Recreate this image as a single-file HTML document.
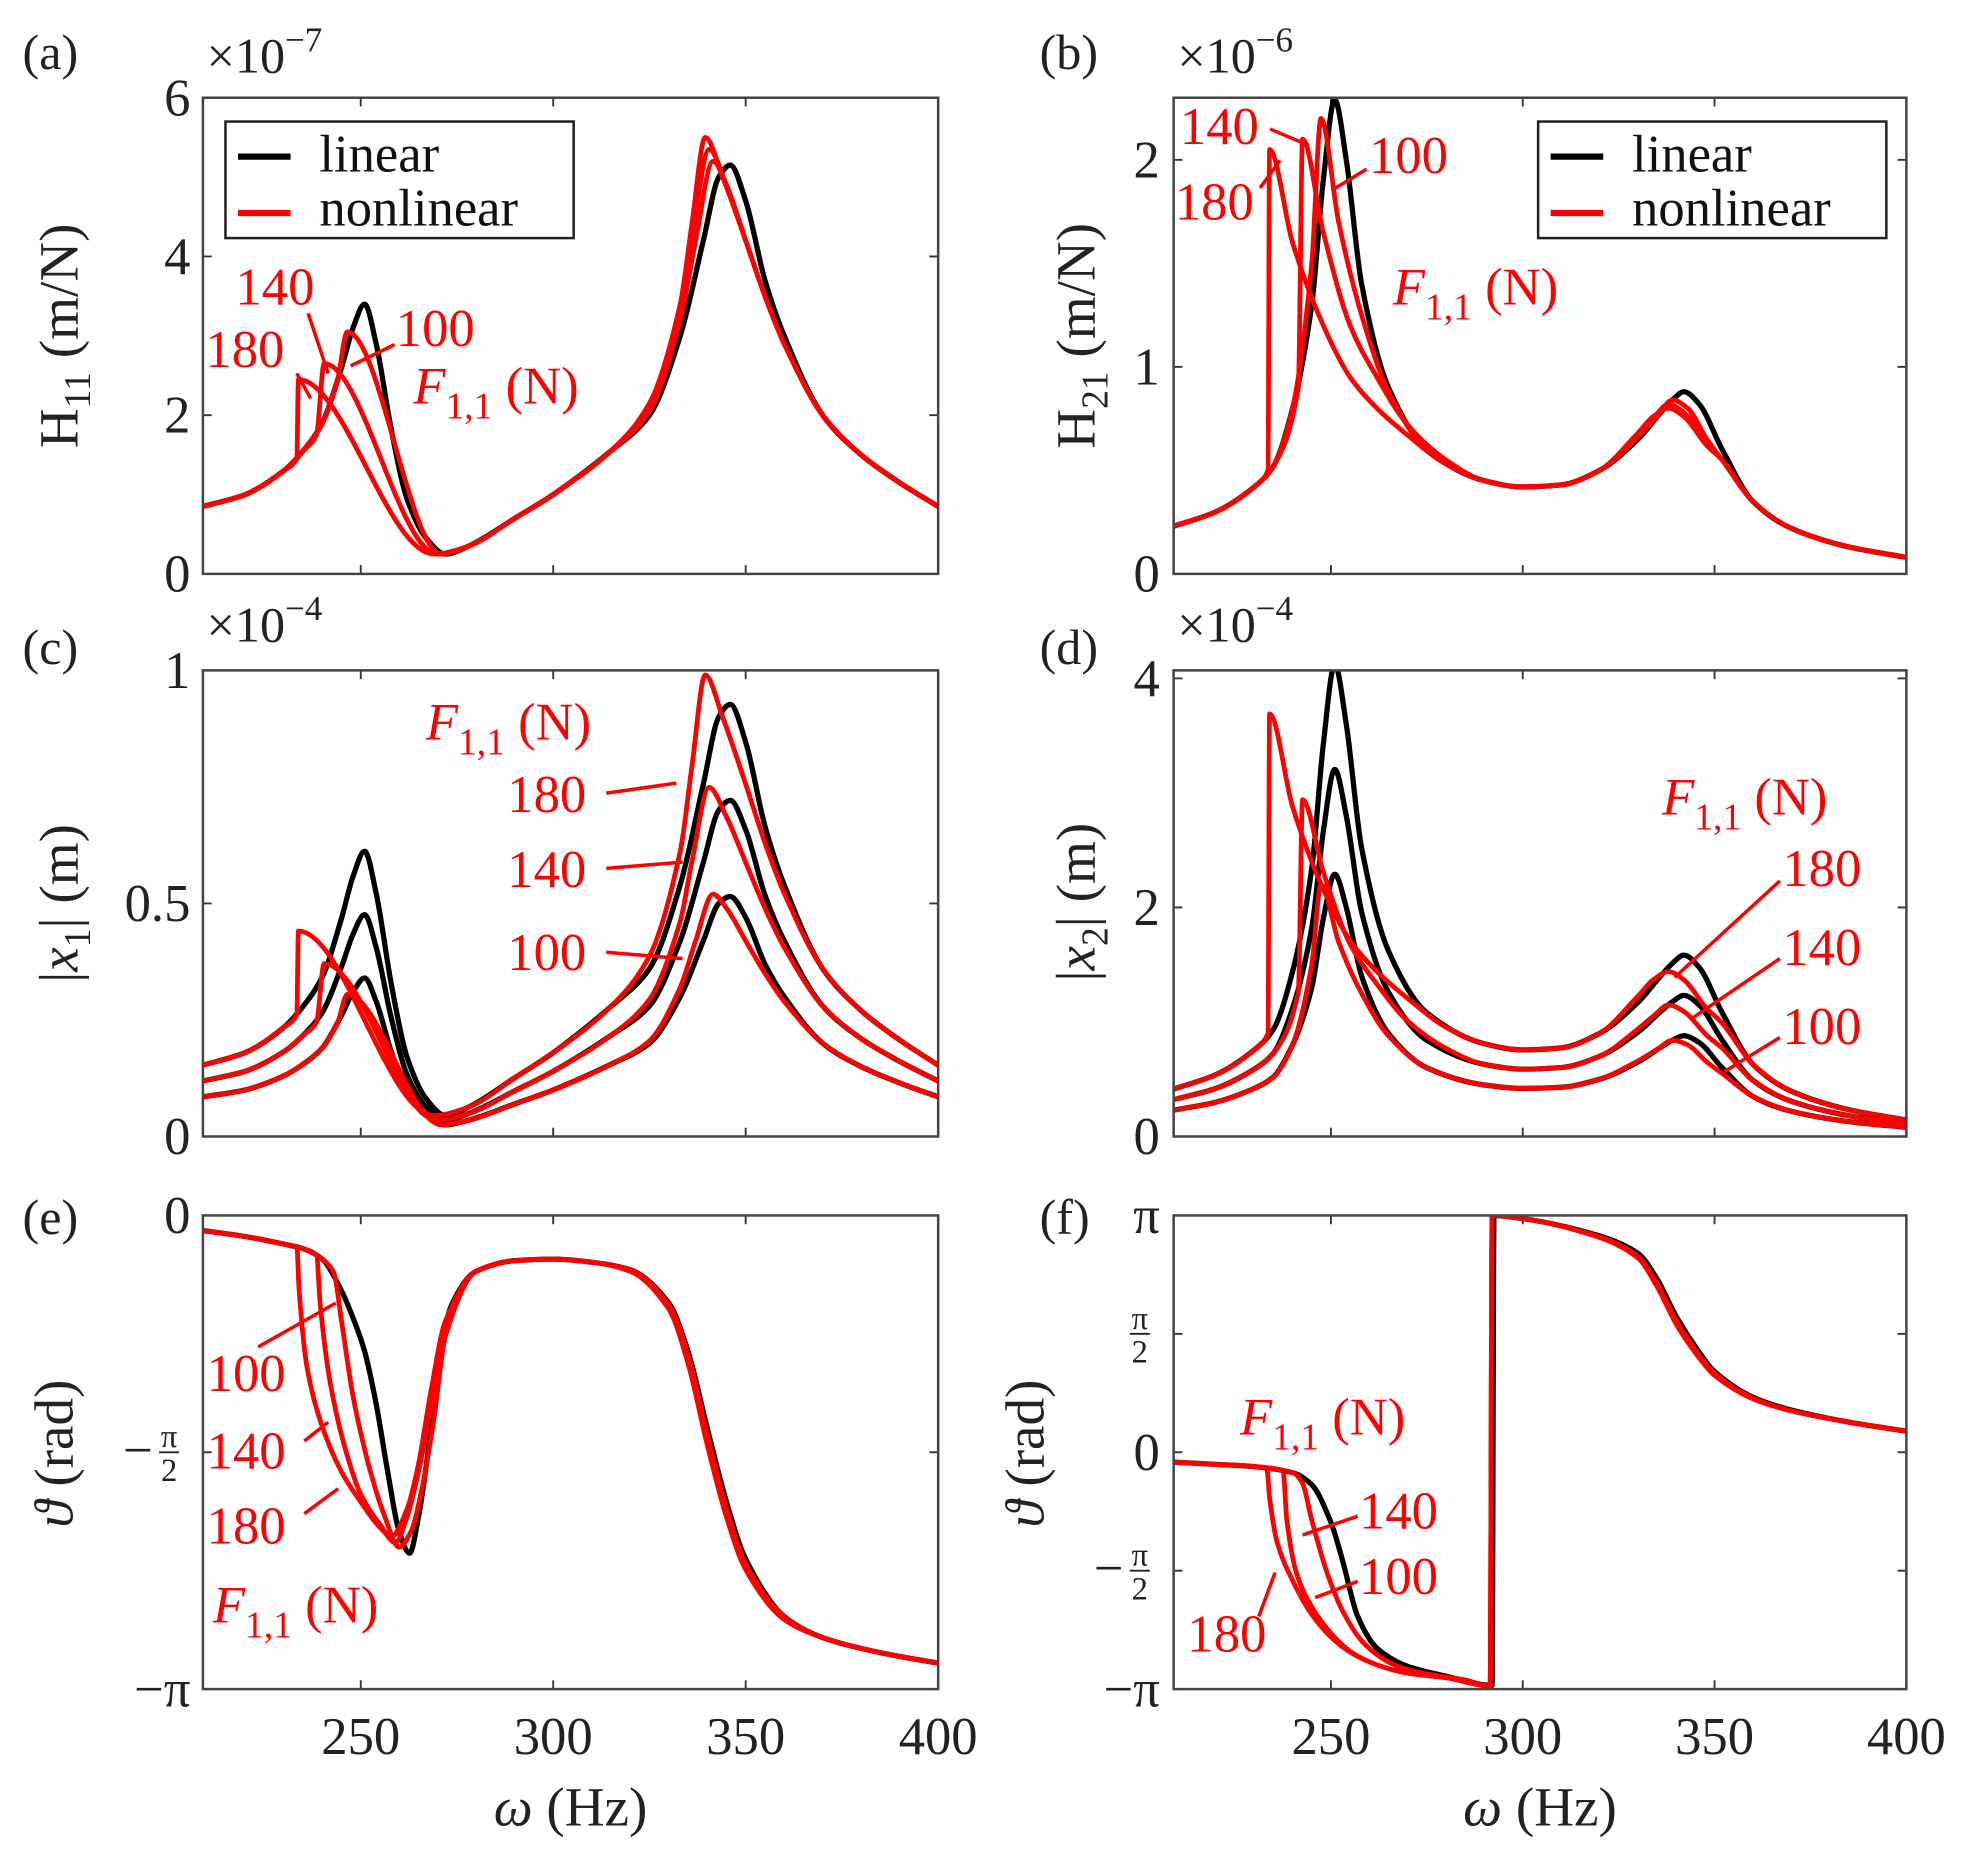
<!DOCTYPE html>
<html><head><meta charset="utf-8">
<style>
html,body{margin:0;padding:0;background:#fff;}
svg{display:block;}
svg text{font-family:"Liberation Serif","Times New Roman","DejaVu Serif",serif !important;}
</style></head>
<body>
<svg id="fig" width="1964" height="1857" viewBox="0 0 1568 1482" preserveAspectRatio="none" font-family="Liberation Serif, serif" xmlns="http://www.w3.org/2000/svg">
<rect x="0" y="0" width="1568" height="1482" fill="#fff"/>
</svg>
<script>
// ---------- DATA ----------
// Panel (a) H11 x1e-7
const fLin_a = [209,220,230,235,240,245,248,251,254,258,262,267,272,278,290,300,315,325,333,339,343,346,350,355,360,370,380,390,400];
const h11Lin = [0.85,1.0,1.3,1.55,1.9,2.6,3.1,3.4,2.9,1.8,0.95,0.45,0.25,0.35,0.7,1.0,1.55,2.0,3.0,4.2,5.0,5.15,4.7,3.7,3.0,2.0,1.5,1.15,0.85];
const fNl100_a = [209,220,230,235,240,244,246.5,271,278,290,300,315,325,333,337,341.5,345,350,355,360,370,380,390,400];
const h11Nl100 = [0.85,1.0,1.3,1.55,1.9,2.45,3.05,0.25,0.35,0.7,1.0,1.55,2.05,3.2,4.2,5.2,4.9,4.2,3.5,2.9,2.0,1.5,1.15,0.85];
const fNl140_a = [209,220,230,235,238.5,240.5,270,278,290,300,315,325,333,336,340.5,345,350,355,360,370,380,390,400];
const h11Nl140 = [0.85,1.0,1.3,1.55,1.75,2.65,0.25,0.35,0.7,1.0,1.55,2.1,3.3,4.2,5.35,4.9,4.2,3.5,2.9,2.0,1.5,1.15,0.85];
const fNl180_a = [209,220,230,233.4,233.8,269,278,290,300,315,325,333,336,339.5,344,350,355,360,370,380,390,400];
const h11Nl180 = [0.85,1.0,1.3,1.45,2.45,0.25,0.35,0.7,1.0,1.55,2.15,3.4,4.4,5.5,5.0,4.2,3.5,2.9,2.0,1.5,1.15,0.85];

// Panel (b) H21 x1e-6
const fLin_b = [209,220,230,235,240,245,248,251,254,258,265,275,290,300,310,320,330,336,339,342,346,352,360,370,385,400];
const h21Lin = [0.23,0.3,0.42,0.52,0.8,1.3,1.9,2.29,2.0,1.4,0.9,0.6,0.45,0.42,0.43,0.5,0.65,0.78,0.84,0.88,0.82,0.6,0.35,0.22,0.13,0.08];
const fNl100_b = [209,220,230,235,240,245,247.4,252,258,265,275,290,300,310,320,330,335,339,343,348,352,360,370,385,400];
const h21Nl100 = [0.23,0.3,0.42,0.52,0.8,1.5,2.2,1.7,1.25,0.88,0.6,0.45,0.42,0.43,0.5,0.66,0.76,0.84,0.8,0.65,0.55,0.35,0.22,0.13,0.08];
const fNl140_b = [209,220,230,235,241.5,242.6,248,255,262,270,280,290,300,310,320,330,334,338,342,348,352,360,370,385,400];
const h21Nl140 = [0.23,0.3,0.42,0.52,0.9,2.1,1.65,1.2,0.95,0.72,0.55,0.45,0.42,0.43,0.5,0.67,0.75,0.82,0.78,0.63,0.55,0.35,0.22,0.13,0.08];
const fNl180_b = [209,220,230,233.6,234,240,248,255,262,270,280,290,300,310,320,330,334,338,342,348,352,360,370,385,400];
const h21Nl180 = [0.23,0.3,0.42,0.5,2.05,1.6,1.2,0.95,0.8,0.67,0.53,0.45,0.42,0.43,0.5,0.68,0.76,0.8,0.76,0.62,0.55,0.35,0.22,0.13,0.08];

// Panel (c) |x1| x1e-4
const x1Lin180 = [0.153,0.18,0.234,0.279,0.342,0.468,0.558,0.612,0.522,0.324,0.171,0.081,0.045,0.063,0.126,0.18,0.279,0.36,0.54,0.756,0.9,0.927,0.846,0.666,0.54,0.36,0.27,0.207,0.153];
const x1Lin140 = [0.119,0.14,0.182,0.217,0.266,0.364,0.434,0.476,0.406,0.252,0.133,0.063,0.035,0.049,0.098,0.14,0.217,0.28,0.42,0.588,0.7,0.721,0.658,0.518,0.42,0.28,0.21,0.161,0.119];
const x1Lin100 = [0.085,0.1,0.13,0.155,0.19,0.26,0.31,0.34,0.29,0.18,0.095,0.045,0.025,0.035,0.07,0.1,0.155,0.2,0.3,0.42,0.5,0.515,0.47,0.37,0.3,0.2,0.15,0.115,0.085];
const x1Nl180 = [0.153,0.18,0.234,0.261,0.441,0.045,0.063,0.126,0.18,0.279,0.387,0.612,0.792,0.99,0.9,0.756,0.63,0.522,0.36,0.27,0.207,0.153];
const x1Nl140 = [0.119,0.14,0.182,0.217,0.245,0.371,0.035,0.049,0.098,0.14,0.217,0.294,0.462,0.588,0.749,0.686,0.588,0.49,0.406,0.28,0.21,0.161,0.119];
const x1Nl100 = [0.085,0.1,0.13,0.155,0.19,0.245,0.305,0.025,0.035,0.07,0.1,0.155,0.205,0.32,0.42,0.52,0.49,0.42,0.35,0.29,0.2,0.15,0.115,0.085];

// Panel (d) |x2| x1e-4
const x2Lin180 = [0.414,0.54,0.756,0.936,1.44,2.34,3.42,4.12,3.6,2.52,1.62,1.08,0.81,0.756,0.774,0.9,1.17,1.404,1.512,1.584,1.476,1.08,0.63,0.396,0.234,0.144];
const x2Lin140 = [0.322,0.42,0.588,0.728,1.12,1.82,2.66,3.206,2.8,1.96,1.26,0.84,0.63,0.588,0.602,0.7,0.91,1.092,1.176,1.232,1.148,0.84,0.49,0.308,0.182,0.112];
const x2Lin100 = [0.23,0.3,0.42,0.52,0.8,1.3,1.9,2.29,2.0,1.4,0.9,0.6,0.45,0.42,0.43,0.5,0.65,0.78,0.84,0.88,0.82,0.6,0.35,0.22,0.13,0.08];
const x2Nl180 = [0.414,0.54,0.756,0.9,3.69,2.88,2.16,1.71,1.44,1.206,0.954,0.81,0.756,0.774,0.9,1.224,1.368,1.44,1.368,1.116,0.99,0.63,0.396,0.234,0.144];
const x2Nl140 = [0.322,0.42,0.588,0.728,1.26,2.94,2.31,1.68,1.33,1.008,0.77,0.63,0.588,0.602,0.7,0.938,1.05,1.148,1.092,0.882,0.77,0.49,0.308,0.182,0.112];
const x2Nl100 = [0.23,0.3,0.42,0.52,0.8,1.5,2.2,1.7,1.25,0.88,0.6,0.45,0.42,0.43,0.5,0.66,0.76,0.84,0.8,0.65,0.55,0.35,0.22,0.13,0.08];

// Panel (e) phase 1 (rad)
const fLin_e = [209,220,230,235,240,245,248,251,254,257,260,262.7,265,267,270,273.5,280,290,300,310,320,330,335,340,345,350,360,370,385,400];
const th1Lin = [-0.1,-0.14,-0.19,-0.22,-0.29,-0.5,-0.68,-0.9,-1.25,-1.7,-2.1,-2.24,-2.0,-1.66,-1.05,-0.6,-0.37,-0.3,-0.29,-0.31,-0.36,-0.58,-0.9,-1.41,-1.9,-2.28,-2.66,-2.8,-2.9,-2.97];
const fNl180_e = [209,220,230,233.4,234,236,240,245,250,255,258,262,265,268,272,280,290,300,310,320,330,335,340,345,350,360,370,385,400];
const th1Nl180 = [-0.1,-0.14,-0.19,-0.21,-0.5,-1.0,-1.4,-1.7,-1.9,-2.07,-2.13,-1.95,-1.65,-1.2,-0.7,-0.37,-0.3,-0.29,-0.31,-0.37,-0.62,-0.98,-1.52,-2.0,-2.35,-2.68,-2.8,-2.9,-2.97];
const fNl140_e = [209,220,230,235,238.5,239.5,242,246,250,255,259,262,265,268,272,280,290,300,310,320,330,335,340,345,350,360,370,385,400];
const th1Nl140 = [-0.1,-0.14,-0.19,-0.22,-0.26,-0.6,-1.1,-1.55,-1.85,-2.05,-2.17,-2.0,-1.7,-1.3,-0.75,-0.37,-0.3,-0.29,-0.31,-0.37,-0.6,-0.95,-1.48,-1.97,-2.33,-2.67,-2.8,-2.9,-2.97];
const fNl100_e = [209,220,230,235,240,243,245,248,252,256,260,263,266,269,272,280,290,300,310,320,330,335,340,345,350,360,370,385,400];
const th1Nl100 = [-0.1,-0.14,-0.19,-0.22,-0.29,-0.38,-0.7,-1.2,-1.65,-1.98,-2.2,-2.1,-1.8,-1.35,-0.8,-0.37,-0.3,-0.29,-0.31,-0.36,-0.59,-0.92,-1.45,-1.94,-2.31,-2.66,-2.8,-2.9,-2.97];

// Panel (f) phase 2 (rad)
const fLin_f = [209,220,230,240,245,250,253,257,262,270,280,292,292.5,300,320,330,335,340,345,350,360,370,385,400];
const th2Lin = [-0.13,-0.16,-0.19,-0.27,-0.43,-0.93,-1.43,-2.18,-2.6,-2.84,-2.97,-3.09,3.14,3.1,2.87,2.64,2.3,1.8,1.4,1.07,0.73,0.56,0.4,0.28];
const fNl180_f = [209,220,230,233.3,234,236,240,245,250,255,260,265,270,280,291.5,292,300,320,330,335,340,345,350,360,370,385,400];
const th2Nl180 = [-0.13,-0.16,-0.19,-0.22,-0.6,-1.2,-1.7,-2.15,-2.45,-2.65,-2.78,-2.87,-2.93,-2.99,-3.1,3.14,3.1,2.85,2.58,2.2,1.7,1.32,1.02,0.71,0.55,0.4,0.28];
const fNl140_f = [209,220,230,237.5,238.5,241,245,250,255,260,265,270,280,291.5,292,300,320,330,335,340,345,350,360,370,385,400];
const th2Nl140 = [-0.13,-0.16,-0.19,-0.24,-0.9,-1.6,-2.05,-2.4,-2.64,-2.78,-2.87,-2.93,-2.99,-3.1,3.14,3.1,2.85,2.58,2.2,1.72,1.34,1.03,0.71,0.55,0.4,0.28];
const fNl100_f = [209,220,230,240,242.5,245,249,253,258,263,268,275,285,291.5,292,300,320,330,335,340,345,350,360,370,385,400];
const th2Nl100 = [-0.13,-0.16,-0.19,-0.27,-0.4,-0.9,-1.6,-2.1,-2.5,-2.72,-2.85,-2.94,-3.02,-3.1,3.14,3.1,2.86,2.6,2.24,1.75,1.36,1.05,0.72,0.55,0.4,0.28];

const xTicks = [250,300,350,400];

// ---------- DRAW ----------
const NS = "http://www.w3.org/2000/svg";
const svg = document.getElementById('fig');
const FONT = '"Liberation Serif","Times New Roman","DejaVu Serif",serif';
function mk(tag, attrs, parent){
  const e = document.createElementNS(NS, tag);
  for (const k in attrs) e.setAttribute(k, attrs[k]);
  if (tag==='text') e.style.fontFamily = FONT;
  (parent||svg).appendChild(e);
  return e;
}
function txt(x,y,s,size,fill,anchor,parent){
  const t = mk('text',{x:x,y:y,'font-size':size,fill:fill||'#000','text-anchor':anchor||'start'},parent);
  t.textContent = s;
  return t;
}

const PI = Math.PI;
const panels = {
  a:{x0:162,x1:749,y0:78,y1:458,ymin:0,ymax:6},
  b:{x0:937,x1:1522,y0:78,y1:458,ymin:0,ymax:2.3},
  c:{x0:162,x1:749,y0:535,y1:907,ymin:0,ymax:1},
  d:{x0:937,x1:1522,y0:535,y1:907,ymin:0,ymax:4.07},
  e:{x0:162,x1:749,y0:970,y1:1348,ymin:-PI,ymax:0},
  f:{x0:937,x1:1522,y0:970,y1:1348,ymin:-PI,ymax:PI}
};
const XMIN=209, XMAX=400;
function sx(p,v){return p.x0+(v-XMIN)/(XMAX-XMIN)*(p.x1-p.x0);}
function sy(p,v){return p.y1-(v-p.ymin)/(p.ymax-p.ymin)*(p.y1-p.y0);}

// monotone cubic (Fritsch-Carlson) path through pixel points
function monoPath(xs,ys){
  const n=xs.length; const d=[],m=[];
  for(let i=0;i<n-1;i++) d.push((ys[i+1]-ys[i])/(xs[i+1]-xs[i]));
  m[0]=d[0]; m[n-1]=d[n-2];
  for(let i=1;i<n-1;i++){
    if(d[i-1]*d[i]<=0) m[i]=0;
    else m[i]=2/(1/d[i-1]+1/d[i]);
  }
  let s='M'+xs[0].toFixed(2)+' '+ys[0].toFixed(2);
  for(let i=0;i<n-1;i++){
    const h=xs[i+1]-xs[i];
    s+='C'+(xs[i]+h/3).toFixed(2)+' '+(ys[i]+m[i]*h/3).toFixed(2)+' '+(xs[i+1]-h/3).toFixed(2)+' '+(ys[i+1]-m[i+1]*h/3).toFixed(2)+' '+xs[i+1].toFixed(2)+' '+ys[i+1].toFixed(2);
  }
  return s;
}

function frame(key,yTickVals){
  const p = panels[key];
  const g = mk('g',{});
  
  
  const cp = mk('clipPath',{id:'clip-'+key},g);
  mk('rect',{x:p.x0,y:p.y0,width:p.x1-p.x0,height:p.y1-p.y0},cp);
  const ax = mk('g',{},g);
  
  
  xTicks.forEach(v=>{
    const X=sx(p,v);
    mk('line',{x1:X,y1:p.y1,x2:X,y2:p.y1-7,stroke:'#333','stroke-width':1.5},ax);
    mk('line',{x1:X,y1:p.y0,x2:X,y2:p.y0+7,stroke:'#333','stroke-width':1.5},ax);
  });
  yTickVals.forEach(v=>{
    const Y=sy(p,v);
    mk('line',{x1:p.x0,y1:Y,x2:p.x0+7,y2:Y,stroke:'#333','stroke-width':1.5},ax);
    mk('line',{x1:p.x1,y1:Y,x2:p.x1-7,y2:Y,stroke:'#333','stroke-width':1.5},ax);
  });
  const curves = mk('g',{'clip-path':'url(#clip-'+key+')'},g);
  
  
  p.g = curves; p.ax = ax;
  return p;
}
function series(key,fs,vs,color,name){
  const p = panels[key];
  const xs = fs.map(v=>sx(p,v)), ys = vs.map(v=>sy(p,v));
  const path = mk('path',{d:monoPath(xs,ys),fill:'none',stroke:color,'stroke-width':color==='#000'?4.2:3.8,'stroke-linejoin':'round','stroke-linecap':'round'},p.g);
  
  
}
function border(key){
  const p=panels[key];
  const r = mk('rect',{x:p.x0,y:p.y0,width:p.x1-p.x0,height:p.y1-p.y0,fill:'none',stroke:'#444','stroke-width':2});
  
  
}
function xLabels(key){
  const p=panels[key];
  xTicks.forEach(v=>{
    const t=txt(sx(p,v),1400,String(v),42,'#222','middle');
    
    
  });
  const t=mk('text',{x:(p.x0+p.x1)/2,y:1457,'font-size':44,fill:'#222','text-anchor':'middle'});
  t.innerHTML='<tspan font-style="italic">ω</tspan> (Hz)';
  
  
}
function yLab(key,v,s,xr){
  const p=panels[key];
  const t=txt(xr,sy(p,v)+14,s,42,'#222','end');
  
  
}
function fracLab(key,v,neg,xr){
  const p=panels[key]; const Y=sy(p,v);
  const g=mk('g',{});
  
  
  txt(xr,Y-4,'π',26,'#222','middle',g);
  mk('line',{x1:xr-8,y1:Y,x2:xr+8,y2:Y,stroke:'#222','stroke-width':1.5},g);
  txt(xr,Y+23,'2',26,'#222','middle',g);
  if(neg) txt(xr-13,Y+12,'−',42,'#222','end',g);
}
function panelLabel(s,x,y){
  const t=txt(x,y,s,40,'#222','start');
  
  
}
function expLab(key,x,y,e){
  const t=mk('text',{x:x,y:y,'font-size':40,fill:'#222'});
  t.innerHTML='×10<tspan font-size="28" dy="-17">−'+e+'</tspan>';
  
  
}
function yTitle(key,cx,cy,html){
  const t=mk('text',{x:0,y:0,'font-size':44,fill:'#222','text-anchor':'middle',transform:'translate('+cx+','+cy+') rotate(-90)'});
  t.innerHTML=html;
  
  
}
function redLab(key,x,y,s,name){
  const t=txt(x,y,s,42,'#f00','start');
  
  
}
function fLab(key,x,y){
  const t=mk('text',{x:x,y:y,'font-size':42,fill:'#f00'});
  t.innerHTML='<tspan font-style="italic">F</tspan><tspan font-size="30" dy="12">1,1</tspan><tspan dy="-12"> (N)</tspan>';
  
  
}
function leader(x1,y1,x2,y2,name){
  const l=mk('line',{x1:x1,y1:y1,x2:x2,y2:y2,stroke:'#f00','stroke-width':2.8});
  
  
}
function legend(key,x,y){
  const g=mk('g',{});
  
  
  mk('rect',{x:x,y:y,width:278,height:93,fill:'#fff',stroke:'#222','stroke-width':2},g);
  const e1=mk('g',{},g);
  
  
  mk('line',{x1:x+10,y1:y+28,x2:x+52,y2:y+28,stroke:'#000','stroke-width':5},e1);
  txt(x+75,y+40,'linear',42,'#111','start',e1);
  const e2=mk('g',{},g);
  
  
  mk('line',{x1:x+10,y1:y+73,x2:x+52,y2:y+73,stroke:'#f00','stroke-width':5},e2);
  txt(x+75,y+83,'nonlinear',42,'#111','start',e2);
}

// Panel a
frame('a',[0,2,4,6]);
series('a',fLin_a,h11Lin,'#000','h11-linear');
series('a',fNl100_a,h11Nl100,'#f00','h11-nonlinear-100');
series('a',fNl140_a,h11Nl140,'#f00','h11-nonlinear-140');
series('a',fNl180_a,h11Nl180,'#f00','h11-nonlinear-180');
border('a');
[0,2,4,6].forEach(v=>yLab('a',v,String(v),152));
panelLabel('(a)',18,55); expLab('a',165,58,'7');
yTitle('a',62,268,'H<tspan font-size="30" dy="10">11</tspan><tspan dy="-10"> (m/N)</tspan>');
legend('a',180,97);
redLab('a',188,243,'140','label-140-a'); redLab('a',164,293,'180','label-180-a'); redLab('a',316,276,'100','label-100-a');
fLab('a',330,322);
leader(246,250,262,298,'leader-140-a'); leader(237,298,248,318,'leader-180-a'); leader(315,275,280,292,'leader-100-a');

// Panel b
frame('b',[0,1,2]);
series('b',fLin_b,h21Lin,'#000','h21-linear');
series('b',fNl100_b,h21Nl100,'#f00','h21-nonlinear-100');
series('b',fNl140_b,h21Nl140,'#f00','h21-nonlinear-140');
series('b',fNl180_b,h21Nl180,'#f00','h21-nonlinear-180');
border('b');
[0,1,2].forEach(v=>yLab('b',v,String(v),926));
panelLabel('(b)',830,55); expLab('b',940,58,'6');
yTitle('b',874,268,'H<tspan font-size="30" dy="10">21</tspan><tspan dy="-10"> (m/N)</tspan>');
legend('b',1228,97);
redLab('b',942,115,'140','label-140-b'); redLab('b',938,175,'180','label-180-b'); redLab('b',1093,138,'100','label-100-b');
fLab('b',1112,243);
leader(1014,103,1045,116,'leader-140-b'); leader(1006,150,1022,128,'leader-180-b'); leader(1091,135,1063,152,'leader-100-b');

// Panel c
frame('c',[0,0.5,1]);
series('c',fLin_a,x1Lin180,'#000','x1-linear-180');
series('c',fLin_a,x1Lin140,'#000','x1-linear-140');
series('c',fLin_a,x1Lin100,'#000','x1-linear-100');
series('c',fNl180_a,x1Nl180,'#f00','x1-nonlinear-180');
series('c',fNl140_a,x1Nl140,'#f00','x1-nonlinear-140');
series('c',fNl100_a,x1Nl100,'#f00','x1-nonlinear-100');
border('c');
yLab('c',0,'0',152); yLab('c',0.5,'0.5',152); yLab('c',1,'1',152);
panelLabel('(c)',18,530); expLab('c',165,512,'4');
yTitle('c',62,721,'|<tspan font-style="italic">x</tspan><tspan font-size="30" dy="10">1</tspan><tspan dy="-10">| (m)</tspan>');
fLab('c',340,590);
redLab('c',405,648,'180','label-180-c'); redLab('c',405,708,'140','label-140-c'); redLab('c',405,774,'100','label-100-c');
leader(484,633,540,625,'leader-180-c'); leader(484,693,545,688,'leader-140-c'); leader(484,760,545,765,'leader-100-c');

// Panel d
frame('d',[0,2,4]);
series('d',fLin_b,x2Lin180,'#000','x2-linear-180');
series('d',fLin_b,x2Lin140,'#000','x2-linear-140');
series('d',fLin_b,x2Lin100,'#000','x2-linear-100');
series('d',fNl180_b,x2Nl180,'#f00','x2-nonlinear-180');
series('d',fNl140_b,x2Nl140,'#f00','x2-nonlinear-140');
series('d',fNl100_b,x2Nl100,'#f00','x2-nonlinear-100');
border('d');
[0,2,4].forEach(v=>yLab('d',v,String(v),926));
panelLabel('(d)',830,530); expLab('d',940,512,'4');
yTitle('d',874,720,'|<tspan font-style="italic">x</tspan><tspan font-size="30" dy="10">2</tspan><tspan dy="-10">| (m)</tspan>');
fLab('d',1327,650);
redLab('d',1423,707,'180','label-180-d'); redLab('d',1423,770,'140','label-140-d'); redLab('d',1423,833,'100','label-100-d');
leader(1421,703,1337,780,'leader-180-d'); leader(1421,765,1352,812,'leader-140-d'); leader(1421,828,1377,855,'leader-100-d');

// Panel e
frame('e',[0,-PI/2,-PI]);
series('e',fLin_e,th1Lin,'#000','theta1-linear');
series('e',fNl100_e,th1Nl100,'#f00','theta1-nonlinear-100');
series('e',fNl140_e,th1Nl140,'#f00','theta1-nonlinear-140');
series('e',fNl180_e,th1Nl180,'#f00','theta1-nonlinear-180');
border('e');
yLab('e',0,'0',152); fracLab('e',-PI/2,true,135); yLab('e',-PI,'−π',152);
panelLabel('(e)',18,985);
yTitle('e',58,1160,'<tspan font-style="italic">ϑ</tspan> (rad)');
xLabels('e');
redLab('e',165,1110,'100','label-100-e'); redLab('e',165,1172,'140','label-140-e'); redLab('e',165,1232,'180','label-180-e');
fLab('e',170,1295);
leader(206,1075,268,1040,'leader-100-e'); leader(243,1150,262,1135,'leader-140-e'); leader(243,1208,270,1188,'leader-180-e');

// Panel f
frame('f',[PI,PI/2,0,-PI/2,-PI]);
series('f',fLin_f,th2Lin,'#000','theta2-linear');
series('f',fNl100_f,th2Nl100,'#f00','theta2-nonlinear-100');
series('f',fNl140_f,th2Nl140,'#f00','theta2-nonlinear-140');
series('f',fNl180_f,th2Nl180,'#f00','theta2-nonlinear-180');
border('f');
yLab('f',PI,'π',926); fracLab('f',PI/2,false,910); yLab('f',0,'0',926); fracLab('f',-PI/2,true,910); yLab('f',-PI,'−π',926);
panelLabel('(f)',830,985);
yTitle('f',833,1160,'<tspan font-style="italic">ϑ</tspan> (rad)');
xLabels('f');
fLab('f',990,1145);
redLab('f',1085,1220,'140','label-140-f'); redLab('f',1085,1272,'100','label-100-f'); redLab('f',948,1318,'180','label-180-f');
leader(1084,1210,1040,1225,'leader-140-f'); leader(1084,1262,1050,1275,'leader-100-f'); leader(1005,1290,1018,1255,'leader-180-f');
</script>
</body></html>
